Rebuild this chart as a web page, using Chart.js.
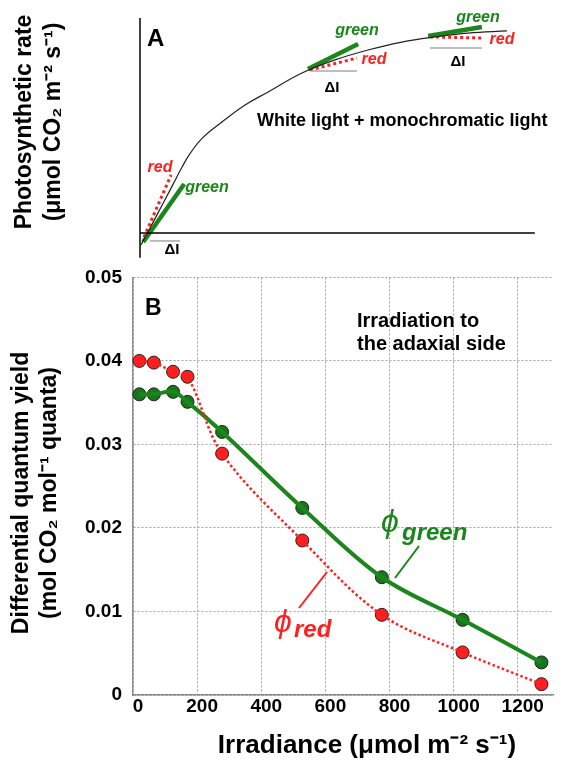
<!DOCTYPE html>
<html lang="en">
<head>
  <meta charset="UTF-8">
  <title>Photosynthetic rate | Differential quantum yield</title>
  <script src="https://cdn.jsdelivr.net/npm/chart.js"></script>
  <style>
    body { margin: 0; background: #fff; }
    #wrap { position: relative; width: 572px; height: 761px; overflow: hidden; }
    canvas { position: absolute; left: 0; }
    #painelA { top: 0; }
    #painelB { top: 255px; }
  </style>
</head>
<body>
<div id="wrap">
  <canvas id="painelA" width="572" height="262"></canvas>
  <canvas id="painelB" width="572" height="506"></canvas>
</div>

<script>
  // ---- panel A: light response curve (schematic, arbitrary units) ----
  const curveX = [0.25, 3.0, 5.8, 8.3, 10.6, 12.6, 15.6, 20.6, 26.4, 32.2, 40.7, 49.0, 57.3, 65.8, 74.1, 82.4, 92.2];
  const curveY = [-0.56, 0.40, 1.38, 2.26, 3.08, 3.70, 4.40, 5.16, 5.95, 6.56, 7.44, 8.05, 8.51, 8.88, 9.12, 9.30, 9.40];

  // tangent segments at three irradiances (start, end)
  const greenSegX = [[0.8, 11.1], [42.2, 54.8], [72.4, 85.9]];
  const greenSegY = [[-0.42, 2.28], [7.63, 8.79], [9.16, 9.58]];
  const redSegX = [[1.0, 7.8], [42.7, 54.5], [72.9, 86.2]];
  const redSegY = [[-0.19, 2.70], [7.58, 8.14], [9.12, 9.07]];
  const deltaSegX = [[2.5, 10.1], [43.2, 54.5], [72.9, 85.9]];
  const deltaSegY = [[-0.37, -0.37], [7.53, 7.53], [8.60, 8.60]];

  const axisAX = [[0, 99.2], [0, 0]];
  const axisAY = [[0, 0], [-1.15, 10]];

  // ---- panel B: differential quantum yield ----
  const irradiance = [20, 65, 125, 170, 278, 528, 776, 1028, 1274];
  const phiRed = [0.0400, 0.0398, 0.0387, 0.0381, 0.0289, 0.0185, 0.0096, 0.0051, 0.0013];
  const phiGreen = [0.0360, 0.0360, 0.0363, 0.0351, 0.0315, 0.0224, 0.0141, 0.0090, 0.0039];

  const xTicks = [0, 200, 400, 600, 800, 1000, 1200];
  const yTicks = [0, 0.01, 0.02, 0.03, 0.04, 0.05];
  const yTickLabels = ['0', '0.01', '0.02', '0.03', '0.04', '0.05'];

  const FONTE = 'Liberation Sans, Arial, Helvetica, sans-serif';
  const VERDE = '#1b861b';
  const VERDE_PONTO = '#16761a';
  const VERMELHO = '#ff1f1f';

  function texto(ctx, str, x, y, opts) {
    ctx.save();
    ctx.font = opts.font;
    ctx.fillStyle = opts.color || '#000';
    ctx.textAlign = opts.align || 'left';
    ctx.textBaseline = opts.baseline || 'middle';
    ctx.translate(x, y);
    if (opts.rotate) ctx.rotate(opts.rotate);
    ctx.fillText(str, 0, 0);
    ctx.restore();
  }

  function linha(ctx, x1, y1, x2, y2, cor, largura) {
    ctx.save();
    ctx.strokeStyle = cor;
    ctx.lineWidth = largura;
    ctx.beginPath();
    ctx.moveTo(x1, y1);
    ctx.lineTo(x2, y2);
    ctx.stroke();
    ctx.restore();
  }

  function segmentos(xs, ys, estilo) {
    return xs.map((sx, i) => Object.assign({
      data: sx.map((x, j) => ({ x: x, y: ys[i][j] })),
      pointRadius: 0,
      clip: false
    }, estilo));
  }

  function pares(xs, ys) {
    return xs.map((x, i) => ({ x: x, y: ys[i] }));
  }

  // labels of panel A
  const rotulosA = {
    id: 'rotulosA',
    afterDraw(chart) {
      const ctx = chart.ctx;
      const tit = `bold 23px ${FONTE}`;
      texto(ctx, 'Photosynthetic rate', 25, 122, { font: tit, align: 'center', rotate: -Math.PI / 2 });
      texto(ctx, '(\u03bcmol CO\u2082 m\u207b\u00b2 s\u207b\u00b9)', 54, 122, { font: tit, align: 'center', rotate: -Math.PI / 2 });
      texto(ctx, 'A', 147, 39, { font: `bold 24px ${FONTE}` });
      texto(ctx, 'White light + monochromatic light', 257, 121, { font: `bold 18px ${FONTE}` });

      const it = `italic bold 16px ${FONTE}`;
      texto(ctx, 'red', 160, 168, { font: it, color: VERMELHO, align: 'center' });
      texto(ctx, 'green', 207, 188, { font: it, color: VERDE, align: 'center' });
      texto(ctx, 'green', 357, 31, { font: it, color: VERDE, align: 'center' });
      texto(ctx, 'red', 374, 60, { font: it, color: VERMELHO, align: 'center' });
      texto(ctx, 'green', 478, 18, { font: it, color: VERDE, align: 'center' });
      texto(ctx, 'red', 502, 40, { font: it, color: VERMELHO, align: 'center' });

      const d = `bold 15px ${FONTE}`;
      texto(ctx, '\u0394I', 172, 250, { font: d, align: 'center' });
      texto(ctx, '\u0394I', 332, 88, { font: d, align: 'center' });
      texto(ctx, '\u0394I', 458, 62, { font: d, align: 'center' });
    }
  };

  // labels of panel B
  const rotulosB = {
    id: 'rotulosB',
    afterDraw(chart) {
      const ctx = chart.ctx;
      const tit = `bold 23px ${FONTE}`;
      texto(ctx, 'Differential quantum yield', 22, 238, { font: tit, align: 'center', rotate: -Math.PI / 2 });
      texto(ctx, '(mol CO\u2082 mol\u207b\u00b9 quanta)', 50, 238, { font: tit, align: 'center', rotate: -Math.PI / 2 });
      texto(ctx, 'Irradiance (\u03bcmol m\u207b\u00b2 s\u207b\u00b9)', 367, 491, { font: `bold 26px ${FONTE}`, align: 'center' });

      texto(ctx, 'B', 145, 54, { font: `bold 23px ${FONTE}` });
      texto(ctx, 'Irradiation to', 357, 72, { font: `bold 20px ${FONTE}`, baseline: 'alphabetic' });
      texto(ctx, 'the adaxial side', 357, 95, { font: `bold 20px ${FONTE}`, baseline: 'alphabetic' });

      texto(ctx, '\u03d5', 381, 268, { font: `italic 32px ${FONTE}`, color: VERDE });
      texto(ctx, 'green', 402, 285, { font: `italic bold 24px ${FONTE}`, color: VERDE, baseline: 'alphabetic' });
      linha(ctx, 395, 323, 419, 291, VERDE, 2);

      texto(ctx, '\u03d5', 274, 368, { font: `italic 32px ${FONTE}`, color: VERMELHO });
      texto(ctx, 'red', 294, 382, { font: `italic bold 24px ${FONTE}`, color: VERMELHO, baseline: 'alphabetic' });
      linha(ctx, 327, 317, 299, 353, VERMELHO, 2);
    }
  };

  const datasetsA = [].concat(
    segmentos(axisAX, axisAY, { borderColor: '#000', borderWidth: 1.5 }),
    [{
      data: pares(curveX, curveY),
      pointRadius: 0, clip: false,
      borderColor: '#222', borderWidth: 1.2,
      tension: 0.4
    }],
    segmentos(deltaSegX, deltaSegY, { borderColor: '#a8a8a8', borderWidth: 1.5 }),
    segmentos(greenSegX, greenSegY, { borderColor: VERDE, borderWidth: 4.5 }),
    segmentos(redSegX, redSegY, { borderColor: VERMELHO, borderWidth: 3, borderDash: [3, 3] })
  );

  new Chart(document.getElementById('painelA'), {
    type: 'line',
    data: { datasets: datasetsA },
    options: {
      responsive: false,
      animation: false,
      devicePixelRatio: 1,
      layout: { padding: { left: 140, right: 34, top: 18, bottom: 4.3 } },
      plugins: { legend: { display: false }, tooltip: { enabled: false } },
      scales: {
        x: { type: 'linear', min: 0, max: 100, display: false },
        y: { type: 'linear', min: -1.15, max: 10, display: false }
      }
    },
    plugins: [rotulosA]
  });

  const fonteTick = { family: FONTE, size: 19, weight: 'bold' };

  new Chart(document.getElementById('painelB'), {
    type: 'line',
    data: {
      datasets: [
        {
          data: pares(irradiance, phiRed),
          pointRadius: 0,
          borderColor: VERMELHO, borderWidth: 2.5, borderDash: [2.5, 2.5],
          tension: 0.35
        },
        {
          data: pares(irradiance, phiGreen),
          pointRadius: 0,
          borderColor: VERDE, borderWidth: 4,
          tension: 0.35
        },
        {
          data: pares(irradiance, phiRed),
          showLine: false,
          pointRadius: 6.5, pointBackgroundColor: VERMELHO,
          pointBorderColor: '#222', pointBorderWidth: 1, clip: false
        },
        {
          data: pares(irradiance, phiGreen),
          showLine: false,
          pointRadius: 6.5, pointBackgroundColor: VERDE_PONTO,
          pointBorderColor: '#222', pointBorderWidth: 1, clip: false
        }
      ]
    },
    options: {
      responsive: false,
      animation: false,
      devicePixelRatio: 1,
      layout: { padding: { left: 0, right: 19, top: 22, bottom: 0 } },
      plugins: { legend: { display: false }, tooltip: { enabled: false } },
      scales: {
        x: {
          type: 'linear', min: 0, max: 1310,
          afterBuildTicks: s => { s.ticks = xTicks.map(v => ({ value: v })); },
          afterFit: s => { s.height = 66; },
          grid: { color: '#a0a0a0', lineWidth: 1, drawTicks: false },
          border: { display: true, color: '#8c8c8c', width: 1.5, dash: [2, 2] },
          ticks: {
            color: '#000', font: fonteTick, padding: 0, labelOffset: 5, maxRotation: 0,
            callback: v => String(v)
          }
        },
        y: {
          type: 'linear', min: 0, max: 0.05,
          afterBuildTicks: s => { s.ticks = yTicks.map(v => ({ value: v })); },
          afterFit: s => { s.width = 133; },
          grid: { color: '#a0a0a0', lineWidth: 1, drawTicks: false },
          border: { display: true, color: '#8c8c8c', width: 1.5, dash: [2, 2] },
          ticks: {
            color: '#000', font: fonteTick, padding: 11,
            callback: (v, i) => yTickLabels[i]
          }
        }
      }
    },
    plugins: [rotulosB]
  });
</script>
</body>
</html>
